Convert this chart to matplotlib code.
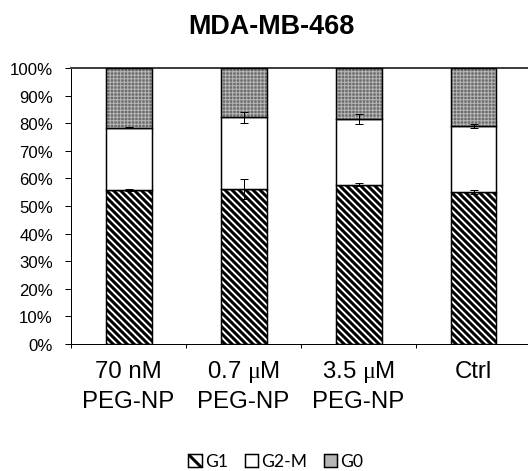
import matplotlib
matplotlib.use("Agg")
import matplotlib.pyplot as plt
import matplotlib.transforms as mtransforms
import numpy as np
from matplotlib.patches import Patch
from matplotlib.legend_handler import HandlerTuple

# Cell-cycle distribution (%) for MDA-MB-468 cells
categories = ["70 nM\nPEG-NP", "0.7 $\\mathrm{\\mu}$M\nPEG-NP",
              "3.5 $\\mathrm{\\mu}$M\nPEG-NP", "Ctrl"]
g1 = [55.8, 56.3, 57.7, 55.1]
g2m = [22.6, 25.8, 23.8, 23.9]
g0 = [21.6, 17.9, 18.5, 21.0]
g1_err = [0.3, 3.6, 0.5, 0.8]
g2m_err = [0.3, 2.0, 1.8, 0.8]
yticks = [0, 10, 20, 30, 40, 50, 60, 70, 80, 90, 100]
ytick_labels = [f"{v}%" for v in yticks]
series_names = ["G1", "G2-M", "G0"]

DPI = 84
PT = 72.0 / DPI  # points per pixel

G1_HATCH = "\\" * 4
G0_HATCH = "+" * 4
G0_FACE = "#6c6c6c"
G0_DOTS = "#b6b6b6"

plt.rcParams["font.family"] = ["Liberation Sans", "DejaVu Sans"]
plt.rcParams["mathtext.fontset"] = "custom"
plt.rcParams["mathtext.rm"] = "Liberation Serif"
plt.rcParams["hatch.linewidth"] = 3.0 * PT

fig = plt.figure(figsize=(528 / DPI, 472 / DPI), dpi=DPI)
ax = fig.add_axes([71 / 528, 1 - 345 / 472, 460 / 528, 276 / 472])

x = np.arange(1, len(categories) + 1)
width = 0.4
edge_lw = 1.5 * PT

ax.bar(x, g1, width=width, color="white", edgecolor="black",
       hatch=G1_HATCH, linewidth=edge_lw, zorder=2)
ax.bar(x, g2m, width=width, bottom=g1, color="white", edgecolor="black",
       linewidth=edge_lw, zorder=2)

top2 = np.add(g1, g2m)
with plt.rc_context({"hatch.linewidth": 1.0 * PT}):
    ax.bar(x, g0, width=width, bottom=top2, color=G0_FACE,
           edgecolor=G0_DOTS, hatch=G0_HATCH, linewidth=0, zorder=2)
ax.bar(x, g0, width=width, bottom=top2, fill=False, edgecolor="black",
       linewidth=edge_lw, zorder=3)

ekw = dict(fmt="none", ecolor="black", elinewidth=1.0 * PT,
           capsize=4 * PT, capthick=1.0 * PT, zorder=5)
ax.errorbar(x, g1, yerr=g1_err, **ekw)
ax.errorbar(x, top2, yerr=g2m_err, **ekw)

ax.set_xlim(0.5, len(categories) + 0.5)
ax.set_ylim(0, 100)

ax.set_yticks(yticks)
ax.set_yticklabels(ytick_labels)
ax.tick_params(axis="y", which="major", direction="out", length=6 * PT,
               width=1 * PT, pad=12 * PT, labelsize=16.8 * PT)

# category boundaries carry the ticks; names sit centred under each bar
ax.set_xticks(np.arange(0.5, len(categories) + 1, 1.0))
ax.set_xticklabels([])
ax.tick_params(axis="x", which="major", direction="out", length=4 * PT,
               width=1 * PT)

xform = ax.get_xaxis_transform()
for xi, name in zip(x, categories):
    for k, line in enumerate(name.split("\n")):
        t = mtransforms.offset_copy(xform, fig=fig, x=0,
                                    y=-(33 + 30 * k) * PT, units="points")
        ax.text(xi, 0, line, transform=t, ha="center", va="baseline",
                fontsize=24 * PT, clip_on=False)

for side in ("left", "bottom"):
    ax.spines[side].set_linewidth(1 * PT)
    ax.spines[side].set_color("black")
ax.spines["right"].set_visible(False)
ax.spines["top"].set_color("#404040")
ax.spines["top"].set_linewidth(2 * PT)

fig.text(271 / 528, 1 - 34 / 472, "MDA-MB-468", ha="center", va="baseline",
         fontsize=27 * PT, fontweight="bold")

with plt.rc_context({"hatch.linewidth": 1.6 * PT}):
    h_g1 = Patch(facecolor="white", edgecolor="black", hatch="\\" * 2,
                 linewidth=edge_lw)
h_g2m = Patch(facecolor="white", edgecolor="black", linewidth=edge_lw)
with plt.rc_context({"hatch.linewidth": 1.0 * PT}):
    h_g0_fill = Patch(facecolor=G0_FACE, edgecolor=G0_DOTS, hatch=G0_HATCH,
                      linewidth=0)
h_g0_edge = Patch(fill=False, edgecolor="black", linewidth=edge_lw)

fig.legend([h_g1, h_g2m, (h_g0_fill, h_g0_edge)], series_names,
           handler_map={tuple: HandlerTuple(ndivide=1, pad=0)},
           loc="center", bbox_to_anchor=(276 / 528, 1 - 462.5 / 472),
           ncol=3, frameon=False, prop={"family": ["Lato", "DejaVu Sans"],
                                        "size": 17.5 * PT},
           handlelength=0.75, handleheight=0.75, handletextpad=0.2,
           columnspacing=0.95, borderaxespad=0, borderpad=0)

fig.savefig("out.png", dpi=DPI)
